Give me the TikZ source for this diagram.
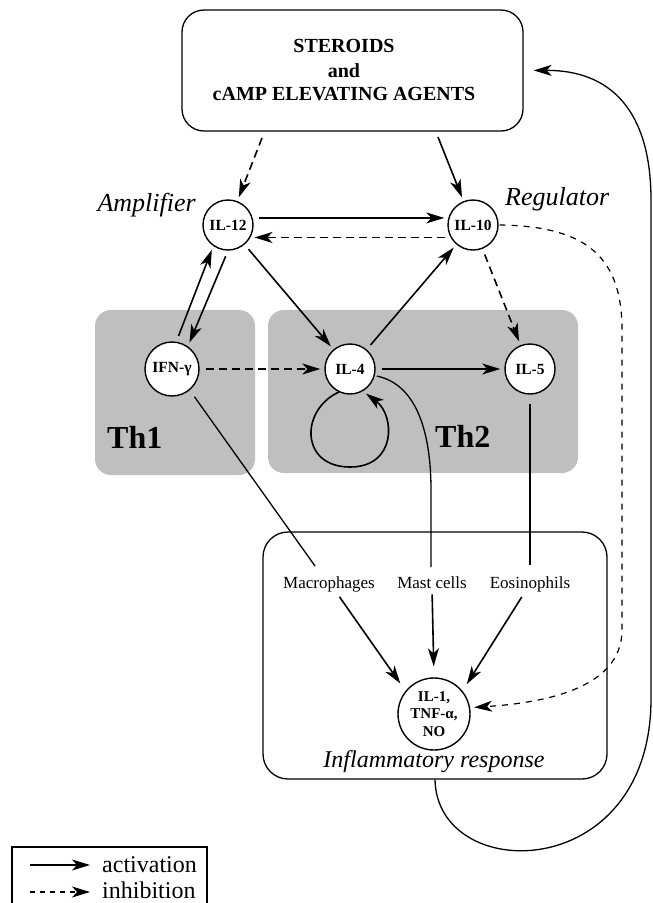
\documentclass[tikz,border=0pt]{standalone}
\usepackage{fontspec}
\setmainfont{Liberation Serif}
\usetikzlibrary{arrows.meta}
\begin{document}
\begin{tikzpicture}[x=1pt,y=1pt,
  tipst/.style={-{Stealth[length=18pt,width=11pt,inset=5pt]}},
  act/.style={tipst, line width=1.6pt, shorten >=4pt, shorten <=6pt},
  inh/.style={act, dash pattern=on 8pt off 5pt},
  plainline/.style={line width=1.3pt},
  cyto/.style={circle, draw, line width=1.4pt, fill=white, inner sep=0pt, minimum size=50pt, font=\fontsize{15.5}{17}\selectfont\bfseries},
  graybox/.style={rectangle, rounded corners=16pt, fill=black!25, draw=none, inner sep=0pt},
  framebox/.style={rectangle, draw, line width=1.3pt, inner sep=0pt},
  lbl/.style={inner sep=0pt},
  ital/.style={lbl, font=\fontsize{26}{30}\selectfont\itshape},
  cell/.style={lbl, font=\fontsize{17}{20}\selectfont, anchor=base},
  thlbl/.style={lbl, font=\fontsize{32}{36}\selectfont\bfseries, anchor=base west},
  toplbl/.style={lbl, font=\fontsize{20}{24}\selectfont\bfseries, anchor=base},
  leglbl/.style={lbl, font=\fontsize{24}{28}\selectfont, anchor=base west}
]
\useasboundingbox (0,0) rectangle (653,-903);

% shaded Th1 / Th2 areas
\node[graybox, minimum width=160pt, minimum height=165pt] (th1box) at (175,-392.5) {};
\node[graybox, minimum width=310pt, minimum height=163pt] (th2box) at (423,-391.5) {};
\node[thlbl] (th1) at (107,-448) {Th1};
\node[thlbl] (th2) at (435,-447) {Th2};

% top box
\node[framebox, rounded corners=22pt, minimum width=341pt, minimum height=121pt] (top) at (352.5,-70.5) {};
\node[toplbl] (s1) at (344,-52) {STEROIDS};
\node[toplbl] (s2) at (344,-77) {and};
\node[toplbl] (s3) at (344,-100) {cAMP ELEVATING AGENTS};

% inflammatory box
\node[framebox, rounded corners=25pt, minimum width=344pt, minimum height=247pt] (infl) at (435,-655.5) {};
\node[lbl, font=\fontsize{24}{28}\selectfont\itshape, anchor=base] (inflt) at (434,-767) {Inflammatory response};
\node[cell] (macro) at (329,-588) {Macrophages};
\node[cell] (mast) at (432,-588) {Mast cells};
\node[cell] (eos) at (530,-588) {Eosinophils};

% cytokines
\node[cyto] (il12) at (228,-225) {IL-12};
\node[cyto] (il10) at (473,-225) {IL-10};
\node[cyto, minimum size=54pt] (ifn) at (172,-369) {IFN-γ};
\node[cyto] (il4) at (350,-369) {IL-4};
\node[cyto] (il5) at (530,-369) {IL-5};
\node[cyto, minimum size=72pt, align=center, font=\fontsize{15}{17.5}\selectfont\bfseries] (il1) at (434,-714) {IL-1,\\TNF-α,\\NO};

\node[ital, anchor=base east] (amp) at (196,-211) {Amplifier};
\node[ital, anchor=base west] (reg) at (505,-205) {Regulator};

% arrows from top box
\coordinate (ta1) at (262,-138);
\coordinate (ta2) at (438,-137);
\draw[inh, shorten <=0pt] (ta1) -- (il12);
\draw[act, shorten <=0pt] (ta2) -- (il10);

% IL-12 / IL-10
\draw[act] (il12.16) -- (il10.164);
\draw[inh] (il10.209) -- (il12.-29);

% IL-12 / IFN
\draw[act] (ifn.81) -- (il12.235);
\draw[act] (il12.270) -- (ifn.55);

% IL-12 -> IL-4, IL-4 -> IL-10, IL-10 -> IL-5
\draw[act] (il12) -- (il4);
\draw[act] (il4) -- (il10);
\draw[inh] (il10) -- (il5);

% horizontal row
\draw[inh] (ifn) -- (il4);
\draw[act] (il4) -- (il5);

% IL-4 self loop
\draw[act, shorten <=0pt] (il4.244) .. controls (300,-410) and (300,-467) .. (350,-467)
   .. controls (397,-467) and (395,-415) .. (il4.300);

% lines to effector cells
\coordinate (macin) at (315,-566);
\coordinate (mastin) at (431,-567);
\coordinate (eosin) at (530,-565);
\draw[plainline, shorten <=8pt] (ifn.-50) -- (macin);
\draw[plainline, shorten <=2pt] (il4.-15) .. controls (420,-385) and (431,-440) .. (431,-490) -- (mastin);
\draw[plainline, shorten <=9pt] (il5.south) -- (eosin);

% effector cells -> IL-1
\draw[act, shorten >=9pt] ([xshift=7pt]macro.south) -- (il1.141);
\draw[act, shorten >=11pt] (mast.south) -- (il1.north);
\draw[act, shorten >=8pt] ([xshift=-5pt]eos.south) -- (il1.39);

% IL-10 inhibits IL-1
\draw[inh, line width=1.2pt, dash pattern=on 6pt off 6pt, shorten <=1pt] (il10.east)
   .. controls (590,-226) and (622,-260) .. (622,-330) -- (622,-630)
   .. controls (622,-690) and (540,-703) .. (il1.10);

% feedback loop
\draw[act, line width=1.3pt, shorten <=0pt, shorten >=10pt] (infl.south)
   .. controls (437,-885) and (650,-885) .. (651,-700) -- (651,-200)
   .. controls (651,-110) and (610,-70) .. (top.east);

% legend
\node[framebox, line width=1.2pt, minimum width=195pt, minimum height=62pt] (legend) at (109.5,-878) {};
\coordinate (la1) at (30,-865);
\coordinate (la2) at (90,-865);
\coordinate (lb1) at (30,-892);
\coordinate (lb2) at (90,-892);
\draw[act, shorten <=0pt, shorten >=0pt] (la1) -- (la2);
\draw[act, dash pattern=on 5pt off 5pt, shorten <=0pt, shorten >=0pt] (lb1) -- (lb2);
\node[leglbl] (lact) at (102,-872) {activation};
\node[leglbl] (linh) at (102,-898) {inhibition};
\end{tikzpicture}
\end{document}
